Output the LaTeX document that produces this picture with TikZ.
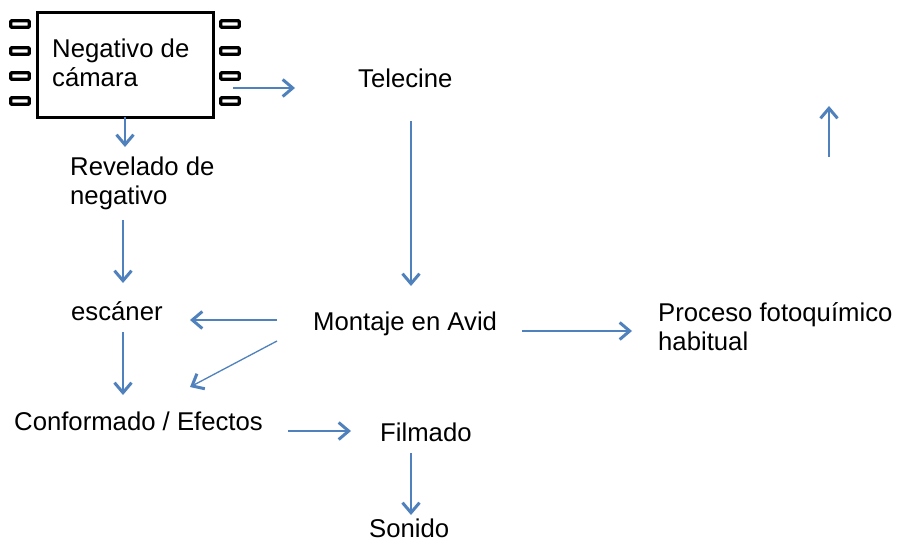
\documentclass[tikz,border=0pt]{standalone}
\usepackage{fontspec}
\setmainfont{Liberation Sans}
\usetikzlibrary{arrows.meta}
\definecolor{flowblue}{RGB}{79,129,189}

\begin{document}
\begin{tikzpicture}[x=1pt,y=-1pt,
	txt/.style={anchor=base west,inner sep=0pt,align=left,font=\fontsize{25.7}{29}\selectfont},
	flow/.style={draw=flowblue,line width=1.3pt,-{Straight Barb[length=10pt,width=17pt,line width=3pt]}},
	hole/.style={draw=black,line width=3.4pt,rounded corners=1pt,fill=white,inner sep=0pt,minimum width=18.5pt,minimum height=6.5pt}]
		\useasboundingbox[fill=white] (0,0) rectangle (900,541);
		% film frame
		\draw[line width=3pt] (37,12) rectangle (213,117);
		\foreach \y in {24,51,76,101}{
			\node[hole] (l\y) at (20,\y){};
			\node[hole] (r\y) at (230,\y){};
		}
		% texts (multi-line ones sit on the baseline of their last line)
		\node[txt] (neg) at (52,86){Negativo de\\cámara};
		\node[txt] (tele) at (358,87){Telecine};
		\node[txt] (rev) at (70,204){Revelado de\\negativo};
		\node[txt] (esc) at (71,320){escáner};
		\node[txt] (mont) at (313,330){Montaje en Avid};
		\node[txt] (proc) at (658,350){Proceso fotoquímico\\habitual};
		\node[txt] (conf) at (14,430){Conformado / Efectos};
		\node[txt] (film) at (380,441){Filmado};
		\node[txt] (son) at (369,537){Sonido};
		% arrow ends
		\coordinate (negE) at (233,88);   \coordinate (teleW) at (295,88);
		\coordinate (negS) at (125,117);  \coordinate (revN) at (125,147);
		\coordinate (teleS) at (411,121); \coordinate (montN) at (411,286);
		\coordinate (revS) at (123,220);  \coordinate (escN) at (123,283);
		\coordinate (escS) at (123,332);  \coordinate (confN) at (123,395);
		\coordinate (montW) at (277,320); \coordinate (escE) at (190,320);
		\coordinate (montSW) at (277,341);\coordinate (confNE) at (190,387);
		\coordinate (montE) at (522,331); \coordinate (procW) at (632,331);
		\coordinate (upS) at (829,157);   \coordinate (upN) at (829,106);
		\coordinate (confE) at (288,431); \coordinate (filmW) at (351,431);
		\coordinate (filmS) at (411,453); \coordinate (sonN) at (411,515);
		% arrows
		\draw[flow] (negE) -- (teleW);
		\draw[flow] (negS) -- (revN);
		\draw[flow] (teleS) -- (montN);
		\draw[flow] (revS) -- (escN);
		\draw[flow] (escS) -- (confN);
		\draw[flow] (montW) -- (escE);
		\draw[flow] (montSW) -- (confNE);
		\draw[flow] (montE) -- (procW);
		\draw[flow] (upS) -- (upN);
		\draw[flow] (confE) -- (filmW);
		\draw[flow] (filmS) -- (sonN);
\end{tikzpicture}
\end{document}
